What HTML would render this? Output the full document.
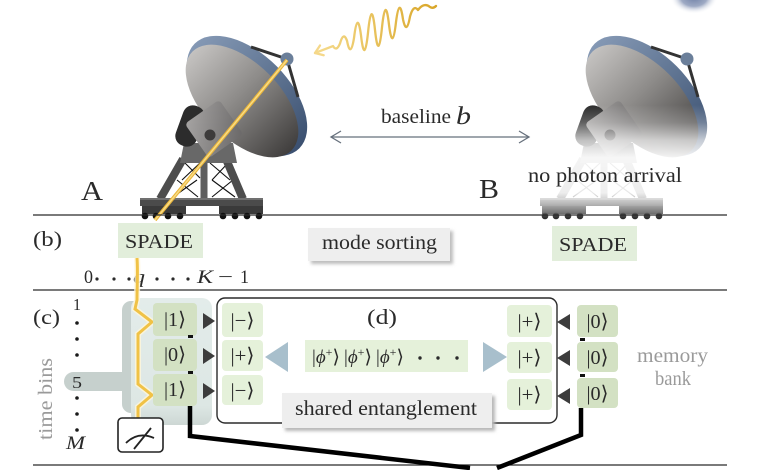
<!DOCTYPE html>
<html><head><meta charset="utf-8"><title>diagram</title>
<style>
html,body{margin:0;padding:0;background:#fff;width:780px;height:470px;overflow:hidden}
svg{display:block}
text{font-family:"Liberation Serif","DejaVu Serif","DejaVu Sans",serif;fill:#2a2a2a}
</style></head><body>
<svg width="780" height="470" viewBox="0 0 780 470" xmlns="http://www.w3.org/2000/svg">
<defs>
<linearGradient id="rim" x1="0" y1="0" x2="1" y2="0">
<stop offset="0" stop-color="#8498b4"/><stop offset="0.6" stop-color="#5a6f8d"/><stop offset="1" stop-color="#3b5070"/>
</linearGradient>
<linearGradient id="back" x1="0" y1="0" x2="1" y2="0">
<stop offset="0" stop-color="#c4c2c0"/><stop offset="0.45" stop-color="#8e8c8a"/><stop offset="1" stop-color="#403e3d"/>
</linearGradient>
<linearGradient id="sq" x1="0" y1="0" x2="1" y2="1">
<stop offset="0" stop-color="#a6a4a3"/><stop offset="1" stop-color="#6a6868"/>
</linearGradient>
<linearGradient id="fade" gradientUnits="userSpaceOnUse" x1="0" y1="105" x2="0" y2="222">
<stop offset="0" stop-color="#fff" stop-opacity="0"/>
<stop offset="0.15" stop-color="#fff" stop-opacity="0.25"/>
<stop offset="0.3" stop-color="#fff" stop-opacity="0.7"/>
<stop offset="0.45" stop-color="#fff" stop-opacity="0.94"/>
<stop offset="0.75" stop-color="#fff" stop-opacity="0.9"/>
<stop offset="0.84" stop-color="#fff" stop-opacity="0.62"/>
<stop offset="0.96" stop-color="#fff" stop-opacity="0.15"/>
<stop offset="1" stop-color="#fff" stop-opacity="0"/>
</linearGradient>
<linearGradient id="wave" gradientUnits="userSpaceOnUse" x1="315" y1="0" x2="436" y2="0">
<stop offset="0" stop-color="#f6dc8e"/><stop offset="1" stop-color="#d9a628"/>
</linearGradient>
<radialGradient id="blob" cx="0.5" cy="0.5" r="0.5">
<stop offset="0" stop-color="#6f80a6"/><stop offset="0.55" stop-color="#9eaac4"/><stop offset="1" stop-color="#ffffff" stop-opacity="0"/>
</radialGradient>
<linearGradient id="hl" x1="0" y1="0" x2="0" y2="1">
<stop offset="0" stop-color="#e3ecea"/><stop offset="0.85" stop-color="#dde7e4"/><stop offset="1" stop-color="#cdd7d4"/>
</linearGradient>
<filter id="sh" x="-10%" y="-20%" width="130%" height="160%">
<feGaussianBlur stdDeviation="1.6"/>
</filter>
<g id="tel">
 <g stroke="#111" stroke-width="1.1" fill="none">
  <path d="M185,163 L200,178 M200,163 L182,180 M177,180 L198,197 M197,180 L173,197"/>
  <path d="M210,163 L230,180 M228,163 L212,180 M212,180 L235,197 M233,180 L212,197"/>
 </g>
 <line x1="183" y1="159" x2="160" y2="199" stroke="#4d4d4d" stroke-width="8"/>
 <line x1="226" y1="159" x2="243" y2="199" stroke="#4d4d4d" stroke-width="8"/>
 <line x1="204" y1="159" x2="204" y2="199" stroke="#5e5e5e" stroke-width="7"/>
 <polygon points="184,143 233,143 237,163 180,163" fill="#686868"/>
 <rect x="140" y="198" width="123" height="8" fill="#4b4b4b"/>
 <rect x="140" y="198" width="123" height="2" fill="#707070"/>
 <rect x="142" y="206" width="44" height="8" fill="#3a3a3a"/>
 <rect x="219" y="206" width="44" height="8" fill="#3a3a3a"/>
 <g fill="#111">
  <circle cx="145" cy="216" r="3.3"/><circle cx="156" cy="216" r="3.3"/><circle cx="168" cy="216" r="3.3"/><circle cx="180" cy="216" r="3.3"/>
  <circle cx="223" cy="216" r="3.3"/><circle cx="235" cy="216" r="3.3"/><circle cx="247" cy="216" r="3.3"/><circle cx="259" cy="216" r="3.3"/>
 </g>
 <ellipse cx="247" cy="96" rx="74" ry="42" transform="rotate(45 247 96)" fill="url(#rim)"/>
 <ellipse cx="242" cy="101" rx="70" ry="38" transform="rotate(45 242 101)" fill="url(#back)"/>
 <rect x="-11" y="-21" width="22" height="42" rx="10" transform="translate(190,126) rotate(20)" fill="#2c2c2c"/>
 <rect x="-21" y="-21" width="42" height="42" rx="4" transform="translate(214,129) rotate(-35)" fill="url(#sq)"/>
 <circle cx="210" cy="135" r="5.5" fill="#3d3b3b"/>
 <line x1="251" y1="47" x2="287" y2="59" stroke="#333" stroke-width="3"/>
 <line x1="287" y1="59" x2="298" y2="97" stroke="#333" stroke-width="3"/>
 <circle cx="287" cy="59" r="6.5" fill="#6b7f9a"/>
</g>
</defs>

<!-- top right blob -->
<ellipse cx="694" cy="-3" rx="24" ry="17" fill="url(#blob)"/>

<!-- telescopes -->
<use href="#tel"/>
<line x1="287" y1="60" x2="155" y2="220" stroke="#eab63a" stroke-width="3.6"/>
<line x1="287" y1="60" x2="155" y2="220" stroke="#f9dc86" stroke-width="1.4"/>
<use href="#tel" transform="translate(400,0)"/>
<rect x="525" y="100" width="190" height="122" fill="url(#fade)"/>

<!-- photon wave -->
<path d="M315,53 L333,46.1 Q336.5,52 340,43.4 Q343.5,31 347,40.7 Q350.5,59 354,38.1 Q357.5,9 361,35.4 Q364.5,66 368,32.7 Q371.5,-3 375,30 Q378.5,63 382,27.3 Q385.5,-6 389,24.7 Q392.5,53 396,22 Q399.5,-5 403,19.3 Q406.5,36 410,16.6 Q413.5,4 418,10 Q424,2 430,7 Q433,9 436,6" fill="none" stroke="url(#wave)" stroke-width="2.3" stroke-linejoin="round" stroke-linecap="round"/>
<path d="M320,45.5 L315,53 L323.7,55.2" fill="none" stroke="#f5d88a" stroke-width="2.3" stroke-linecap="round" stroke-linejoin="round"/>

<!-- baseline arrow -->
<line x1="331" y1="137" x2="529" y2="137" stroke="#66707c" stroke-width="1.3"/>
<path d="M341,131 L331,137 L341,143 M519,131 L529,137 L519,143" fill="none" stroke="#66707c" stroke-width="1.3"/>
<text x="381" y="123" font-size="20" textLength="70" lengthAdjust="spacingAndGlyphs">baseline</text>
<text x="456" y="124" font-size="25" font-style="italic" textLength="15" lengthAdjust="spacingAndGlyphs">b</text>

<text x="81" y="200" font-size="27" textLength="22" lengthAdjust="spacingAndGlyphs">A</text>
<text x="479" y="198" font-size="27" textLength="20" lengthAdjust="spacingAndGlyphs">B</text>
<text x="528" y="182" font-size="21" textLength="154" lengthAdjust="spacingAndGlyphs">no photon arrival</text>

<!-- rules -->
<line x1="33" y1="215" x2="727" y2="215" stroke="#2a2a2a" stroke-width="1.3"/>
<line x1="33" y1="290" x2="727" y2="290" stroke="#2a2a2a" stroke-width="1.3"/>
<line x1="33" y1="465" x2="727" y2="465" stroke="#2a2a2a" stroke-width="1.3"/>

<!-- (b) section -->
<text x="33" y="246" font-size="21" textLength="29" lengthAdjust="spacingAndGlyphs">(b)</text>
<rect x="118" y="223" width="85" height="35" fill="#e2eedb"/>
<text x="125" y="248" font-size="20" textLength="68" lengthAdjust="spacingAndGlyphs">SPADE</text>
<rect x="311" y="231" width="142" height="33" fill="#bdbdbd" filter="url(#sh)"/>
<rect x="308" y="228" width="142" height="33" fill="#eeeeee"/>
<text x="322" y="249" font-size="20" textLength="115" lengthAdjust="spacingAndGlyphs">mode sorting</text>
<rect x="552" y="226" width="85" height="35" fill="#e2eedb"/>
<text x="559" y="251" font-size="20" textLength="68" lengthAdjust="spacingAndGlyphs">SPADE</text>

<text x="84" y="283" font-size="19" textLength="9" lengthAdjust="spacingAndGlyphs">0</text>
<g fill="#2a2a2a">
<circle cx="97" cy="279" r="1.6"/><circle cx="114" cy="279" r="1.6"/><circle cx="129" cy="279" r="1.6"/>
<circle cx="157" cy="279" r="1.6"/><circle cx="173" cy="279" r="1.6"/><circle cx="188" cy="279" r="1.6"/>
</g>
<text x="133" y="283" font-size="19" font-style="italic" textLength="12" lengthAdjust="spacingAndGlyphs">q</text>
<text x="197" y="283" font-size="19" font-style="italic" textLength="16" lengthAdjust="spacingAndGlyphs">K</text>
<text x="218" y="283" font-size="19" textLength="15" lengthAdjust="spacingAndGlyphs">−</text>
<text x="240" y="283" font-size="19" textLength="9" lengthAdjust="spacingAndGlyphs">1</text>

<!-- (c) section -->
<text x="33" y="324" font-size="21" textLength="27" lengthAdjust="spacingAndGlyphs">(c)</text>
<text x="73" y="310" font-size="17" textLength="8" lengthAdjust="spacingAndGlyphs">1</text>
<g fill="#1a1a1a">
<circle cx="77" cy="323" r="1.8"/><circle cx="77" cy="339" r="1.8"/><circle cx="77" cy="355" r="1.8"/>
<circle cx="77" cy="398" r="1.8"/><circle cx="77" cy="414" r="1.8"/><circle cx="77" cy="430" r="1.8"/>
</g>
<text transform="translate(52,440) rotate(-90)" font-size="20" textLength="82" lengthAdjust="spacingAndGlyphs" style="fill:#9a9a9a">time bins</text>

<!-- highlight -->
<rect x="122" y="301" width="22" height="112" rx="9" fill="#c6d0cd"/>
<rect x="64" y="372" width="72" height="19" rx="9.5" fill="#c6d0cd"/>
<rect x="131" y="298" width="81" height="127" rx="10" fill="url(#hl)"/>
<text x="72" y="388" font-size="17" textLength="10" lengthAdjust="spacingAndGlyphs">5</text>
<text x="66" y="449" font-size="19" font-style="italic" textLength="19" lengthAdjust="spacingAndGlyphs">M</text>

<!-- yellow path -->
<path d="M137,258 C138,272 137,285 137,300 L135,309 L152,322 L138,334 L138,384 L152,395 L138,407 L138,420" fill="none" stroke="#fff6da" stroke-width="6" opacity="0.8"/>
<path d="M137,258 C138,272 137,285 137,300 L135,309 L152,322 L138,334 L138,384 L152,395 L138,407 L138,420" fill="none" stroke="#f0c246" stroke-width="3"/>

<!-- measurement -->
<rect x="118" y="418" width="45" height="34" rx="4" fill="#fff" stroke="#222" stroke-width="1.6"/>
<path d="M126,443 Q138,431 154,438" fill="none" stroke="#222" stroke-width="1.8"/>
<path d="M134,449 L151,428" fill="none" stroke="#222" stroke-width="1.8"/>

<!-- left state column -->
<g fill="#d3e1c3">
<rect x="153" y="303" width="44" height="33" rx="4"/>
<rect x="153" y="339" width="44" height="32" rx="4"/>
<rect x="153" y="374" width="44" height="32" rx="4"/>
</g>
<g font-size="20" text-anchor="middle">
<text x="175" y="326" textLength="22" lengthAdjust="spacingAndGlyphs">|1⟩</text>
<text x="175" y="361" textLength="22" lengthAdjust="spacingAndGlyphs">|0⟩</text>
<text x="175" y="396" textLength="22" lengthAdjust="spacingAndGlyphs">|1⟩</text>
</g>
<g fill="#111">
<rect x="188" y="335" width="5" height="3"/>
<rect x="188" y="371" width="5" height="3"/>
</g>
<g fill="#3c3c3c">
<polygon points="203,313 215,321 203,329"/>
<polygon points="203,348 215,356 203,364"/>
<polygon points="203,383 215,391 203,399"/>
</g>

<!-- (d) box -->
<rect x="217" y="298" width="340" height="125" rx="8" fill="none" stroke="#2b2b2b" stroke-width="1.4"/>
<text x="367" y="324" font-size="21" textLength="30" lengthAdjust="spacingAndGlyphs">(d)</text>
<g fill="#e5f1da">
<rect x="222" y="303" width="41" height="34" rx="4"/>
<rect x="222" y="340" width="41" height="31" rx="4"/>
<rect x="222" y="375" width="41" height="30" rx="4"/>
<rect x="305" y="340" width="163" height="32"/>
<rect x="507" y="305" width="45" height="32" rx="4"/>
<rect x="507" y="342" width="45" height="31" rx="4"/>
<rect x="507" y="379" width="45" height="31" rx="4"/>
</g>
<g font-size="20" text-anchor="middle">
<text x="242.5" y="327" textLength="24" lengthAdjust="spacingAndGlyphs">|−⟩</text>
<text x="242.5" y="362" textLength="24" lengthAdjust="spacingAndGlyphs">|+⟩</text>
<text x="242.5" y="397" textLength="24" lengthAdjust="spacingAndGlyphs">|−⟩</text>
<text x="529.5" y="328" textLength="24" lengthAdjust="spacingAndGlyphs">|+⟩</text>
<text x="529.5" y="364" textLength="24" lengthAdjust="spacingAndGlyphs">|+⟩</text>
<text x="529.5" y="401" textLength="24" lengthAdjust="spacingAndGlyphs">|+⟩</text>
</g>
<g fill="#a8bfcc">
<polygon points="265,357 288,342 288,372"/>
<polygon points="483,342 507,357 483,372"/>
</g>
<g font-size="19">
<text x="312" y="363">|<tspan font-style="italic">ϕ</tspan><tspan font-size="12" dy="-7">+</tspan><tspan dy="7">⟩</tspan></text>
<text x="344" y="363">|<tspan font-style="italic">ϕ</tspan><tspan font-size="12" dy="-7">+</tspan><tspan dy="7">⟩</tspan></text>
<text x="376" y="363">|<tspan font-style="italic">ϕ</tspan><tspan font-size="12" dy="-7">+</tspan><tspan dy="7">⟩</tspan></text>
</g>
<g fill="#2a2a2a">
<circle cx="420" cy="358" r="1.7"/><circle cx="438" cy="358" r="1.7"/><circle cx="457" cy="358" r="1.7"/>
</g>

<!-- shared entanglement -->
<rect x="285" y="396" width="210" height="35" fill="#b8b8b8" filter="url(#sh)"/>
<rect x="282" y="393" width="210" height="35" fill="#eeeeee"/>
<text x="295" y="415" font-size="21" textLength="182" lengthAdjust="spacingAndGlyphs">shared entanglement</text>

<!-- right triangles & memory -->
<g fill="#3c3c3c">
<polygon points="570,314 557,322 570,330"/>
<polygon points="570,350 557,358 570,366"/>
<polygon points="570,388 557,396 570,404"/>
</g>
<g fill="#d3e1c3">
<rect x="577" y="305" width="41" height="32" rx="4"/>
<rect x="577" y="342" width="41" height="30" rx="4"/>
<rect x="577" y="378" width="41" height="30" rx="4"/>
</g>
<g font-size="20" text-anchor="middle">
<text x="597.5" y="328" textLength="22" lengthAdjust="spacingAndGlyphs">|0⟩</text>
<text x="597.5" y="364" textLength="22" lengthAdjust="spacingAndGlyphs">|0⟩</text>
<text x="597.5" y="400" textLength="22" lengthAdjust="spacingAndGlyphs">|0⟩</text>
</g>
<g fill="#111">
<rect x="580" y="338" width="5" height="3"/>
<rect x="580" y="374" width="5" height="3"/>
</g>
<text x="637" y="362" font-size="20" textLength="71" lengthAdjust="spacingAndGlyphs" style="fill:#9a9a9a">memory</text>
<text x="655" y="385" font-size="20" textLength="36" lengthAdjust="spacingAndGlyphs" style="fill:#9a9a9a">bank</text>

<!-- thick connectors -->
<path d="M190,406 L190,436 L470,468" fill="none" stroke="#000" stroke-width="4.5"/>
<path d="M581,408 L581,435 L497,468" fill="none" stroke="#000" stroke-width="4.5"/>
</svg>
</body></html>
